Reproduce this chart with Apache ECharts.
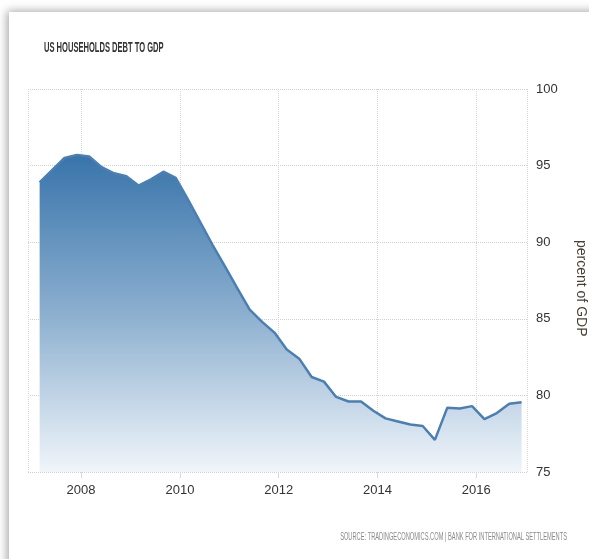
<!DOCTYPE html>
<html>
<head>
<meta charset="utf-8">
<script src="https://cdn.jsdelivr.net/npm/echarts@6/dist/echarts.min.js"></script>
<style>
  html, body { margin: 0; padding: 0; background: #ffffff; }
  #chart { width: 589px; height: 559px; }
</style>
</head>
<body>
<div id="chart"></div>
<script>
// Quarterly household debt, percent of GDP
const quarters = [
  '2007-03-01', '2007-06-01', '2007-09-01', '2007-12-01',
  '2008-03-01', '2008-06-01', '2008-09-01', '2008-12-01',
  '2009-03-01', '2009-06-01', '2009-09-01', '2009-12-01',
  '2010-03-01', '2010-06-01', '2010-09-01', '2010-12-01',
  '2011-03-01', '2011-06-01', '2011-09-01', '2011-12-01',
  '2012-03-01', '2012-06-01', '2012-09-01', '2012-12-01',
  '2013-03-01', '2013-06-01', '2013-09-01', '2013-12-01',
  '2014-03-01', '2014-06-01', '2014-09-01', '2014-12-01',
  '2015-03-01', '2015-06-01', '2015-09-01', '2015-12-01',
  '2016-03-01', '2016-06-01', '2016-09-01', '2016-12-01'
];
const debtToGdp = [
  93.9, 94.7, 95.5, 95.7,
  95.6, 94.9, 94.5, 94.3,
  93.7, 94.1, 94.6, 94.2,
  92.8, 91.3, 89.8, 88.4,
  87.0, 85.6, 84.8, 84.1,
  83.0, 82.4, 81.2, 80.9,
  79.9, 79.6, 79.6, 79.0,
  78.5, 78.3, 78.1, 78.0,
  77.1, 79.2, 79.15, 79.3,
  78.45, 78.85, 79.45, 79.55
];

const titleText = 'US HOUSEHOLDS DEBT TO GDP';
const sourceText = 'SOURCE: TRADINGECONOMICS.COM | BANK FOR INTERNATIONAL SETTLEMENTS';
const unitText = 'percent of GDP';

const FONT = '"Liberation Sans", Arial, sans-serif';
const TWO_YEARS = 2 * 365.25 * 86400000;

const chart = echarts.init(document.getElementById('chart'));
chart.setOption({
  animation: false,
  backgroundColor: '#ffffff',
  textStyle: { fontFamily: FONT },
  graphic: [
    {
      type: 'rect', z: -10, silent: true,
      shape: { x: 9, y: 12, width: 700, height: 700 },
      style: { fill: '#ffffff', shadowColor: 'rgba(0,0,0,0.35)', shadowBlur: 9, shadowOffsetX: -2, shadowOffsetY: -1 }
    },
    {
      type: 'text', x: 44, y: 41, scaleX: 0.54, silent: true,
      style: { text: titleText, fill: '#333333', font: 'bold 14px ' + FONT }
    },
    {
      type: 'text', x: 567, y: 532, scaleX: 0.57, silent: true,
      style: { text: sourceText, fill: '#8a8a8a', font: '10px ' + FONT, align: 'right' }
    },
    {
      type: 'text', x: 588, y: 240, rotation: -Math.PI / 2, silent: true,
      style: { text: unitText, fill: '#4a3f35', font: '14px ' + FONT }
    }
  ],
  grid: { left: 28, right: 62, top: 89, bottom: 87 },
  xAxis: {
    type: 'time',
    min: +new Date('2006-12-05T00:00:00Z'),
    max: +new Date('2017-01-10T00:00:00Z'),
    minInterval: TWO_YEARS,
    maxInterval: TWO_YEARS,
    axisLine: { show: false },
    axisTick: { show: true, length: 6, lineStyle: { color: '#d8d8d8' } },
    axisLabel: {
      formatter: '{yyyy}',
      color: '#333333', fontSize: 13, margin: 12, fontFamily: FONT
    },
    splitLine: { show: true, lineStyle: { color: '#d8d8d8', type: 'dotted', width: 1 } }
  },
  yAxis: {
    type: 'value',
    position: 'right',
    min: 75, max: 100, interval: 5,
    axisLine: { show: false },
    axisTick: { show: false },
    axisLabel: { color: '#333333', fontSize: 13, margin: 9, fontFamily: FONT },
    splitLine: { show: true, lineStyle: { color: '#d0d0d0', type: 'dotted', width: 1 } }
  },
  series: [{
    type: 'line',
    data: quarters.map((q, i) => [q, debtToGdp[i]]),
    showSymbol: false,
    lineStyle: { color: '#4a7fb3', width: 2.5 },
    areaStyle: {
      origin: 'start',
      opacity: 1,
      color: new echarts.graphic.LinearGradient(0, 0, 0, 1, [
        { offset: 0, color: 'rgb(56,116,170)' },
        { offset: 0.5, color: 'rgb(140,175,207)' },
        { offset: 1, color: 'rgb(240,245,250)' }
      ])
    }
  }]
});
</script>
</body>
</html>
